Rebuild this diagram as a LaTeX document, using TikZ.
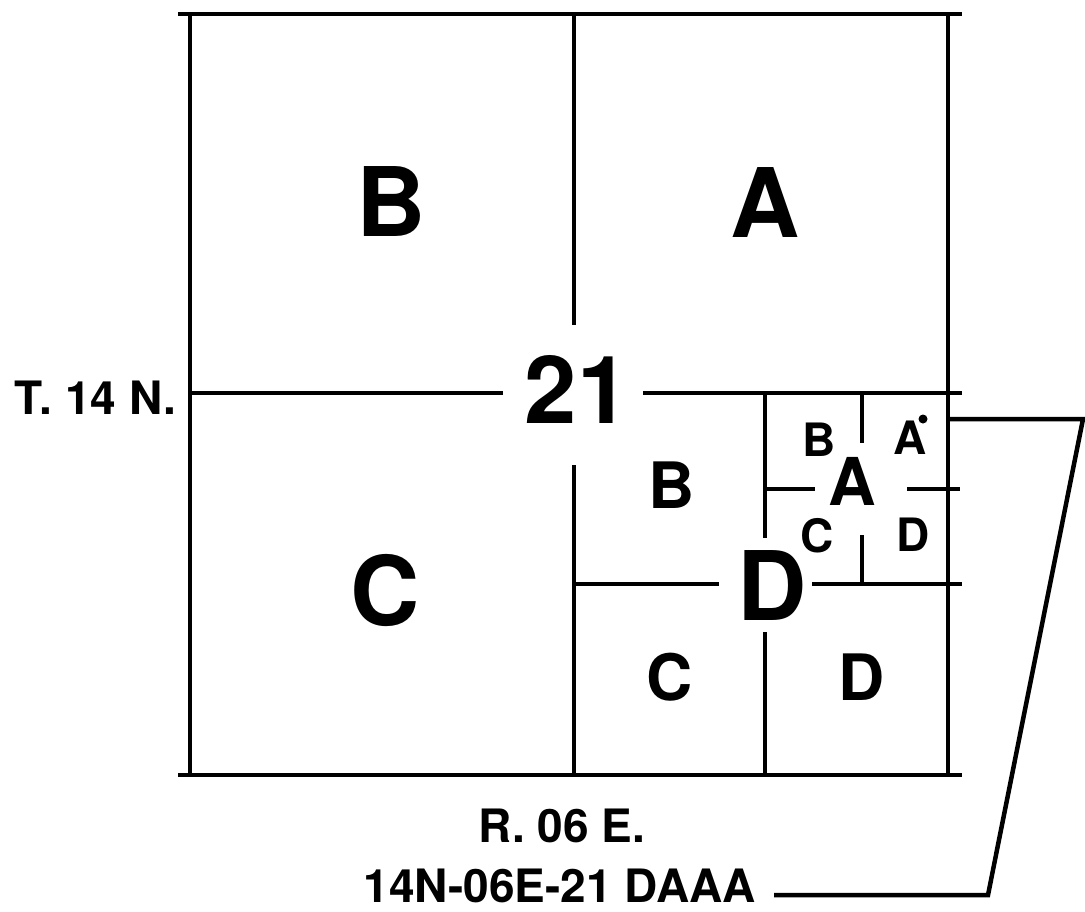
\documentclass[tikz,border=0pt]{standalone}
\usepackage{fontspec}
\setmainfont{TeX Gyre Heros}
\begin{document}
\begin{tikzpicture}[x=1pt,y=-1pt,
  grid/.style={line width=4.5pt,line cap=butt},
  lead/.style={line width=4.5pt,line join=miter},
  lbl/.style={inner sep=0pt,anchor=base,font=\bfseries},
  big/.style={lbl,font=\fontsize{96}{96}\selectfont\bfseries},
  mid/.style={lbl,font=\fontsize{64}{64}\selectfont\bfseries},
  sml/.style={lbl,font=\fontsize{46}{46}\selectfont\bfseries},
  caption/.style={inner sep=0pt,anchor=base,font=\fontsize{46}{46}\selectfont\bfseries}]
\useasboundingbox (0,0) rectangle (1085,911);
% section outline
\draw[grid] (178,14) -- (962,14);
\draw[grid] (178,775) -- (962,775);
\draw[grid] (190,14) -- (190,775);
\draw[grid] (948,14) -- (948,775);
% quarter lines
\draw[grid] (574,14) -- (574,325);
\draw[grid] (574,465) -- (574,775);
\draw[grid] (190,393) -- (503,393);
\draw[grid] (643,393) -- (962,393);
% quarter D lines
\draw[grid] (765,393) -- (765,538);
\draw[grid] (765,632) -- (765,775);
\draw[grid] (574,584) -- (719,584);
\draw[grid] (812,584) -- (962,584);
% quarter-quarter A lines
\draw[grid] (862,393) -- (862,443);
\draw[grid] (862,535) -- (862,584);
\draw[grid] (765,489) -- (815,489);
\draw[grid] (907,489) -- (960,489);
% labels
\node[big] (qB) at (391,236) {B};
\node[big] (qA) at (765,237) {A};
\node[big] (qC) at (385,625) {C};
\node[lbl,font=\fontsize{94}{94}\selectfont\bfseries] (sec) at (577,423) {21};
\node[mid] (dB) at (672,508) {B};
\node[lbl,font=\fontsize{96}{96}\selectfont\bfseries] (dD) at (772,620) {D};
\node[mid] (dC) at (670,700) {C};
\node[mid] (dDD) at (862,700) {D};
\node[lbl,font=\fontsize{66}{66}\selectfont\bfseries] (aA) at (852,505) {A};
\node[sml] (aB) at (819,456) {B};
\node[sml] (aAA) at (910,454) {A};
\node[sml] (aC) at (817,552) {C};
\node[sml] (aD) at (913,551) {D};
\fill (923,419) circle (4.5pt);
\node[caption,anchor=base east] (twp) at (176,414) {T. 14 N.};
\node[caption] (rng) at (562,842) {R. 06 E.};
\node[caption,anchor=base east] (loc) at (756,902) {14N-06E-21 DAAA};
% leader
\coordinate (ls) at (946,419);
\coordinate (lt) at (1083,419);
\coordinate (lb) at (988,895);
\draw[lead] (ls) -- (lt) -- (lb) -- ([xshift=18pt]loc.east |- lb);
\end{tikzpicture}
\end{document}
